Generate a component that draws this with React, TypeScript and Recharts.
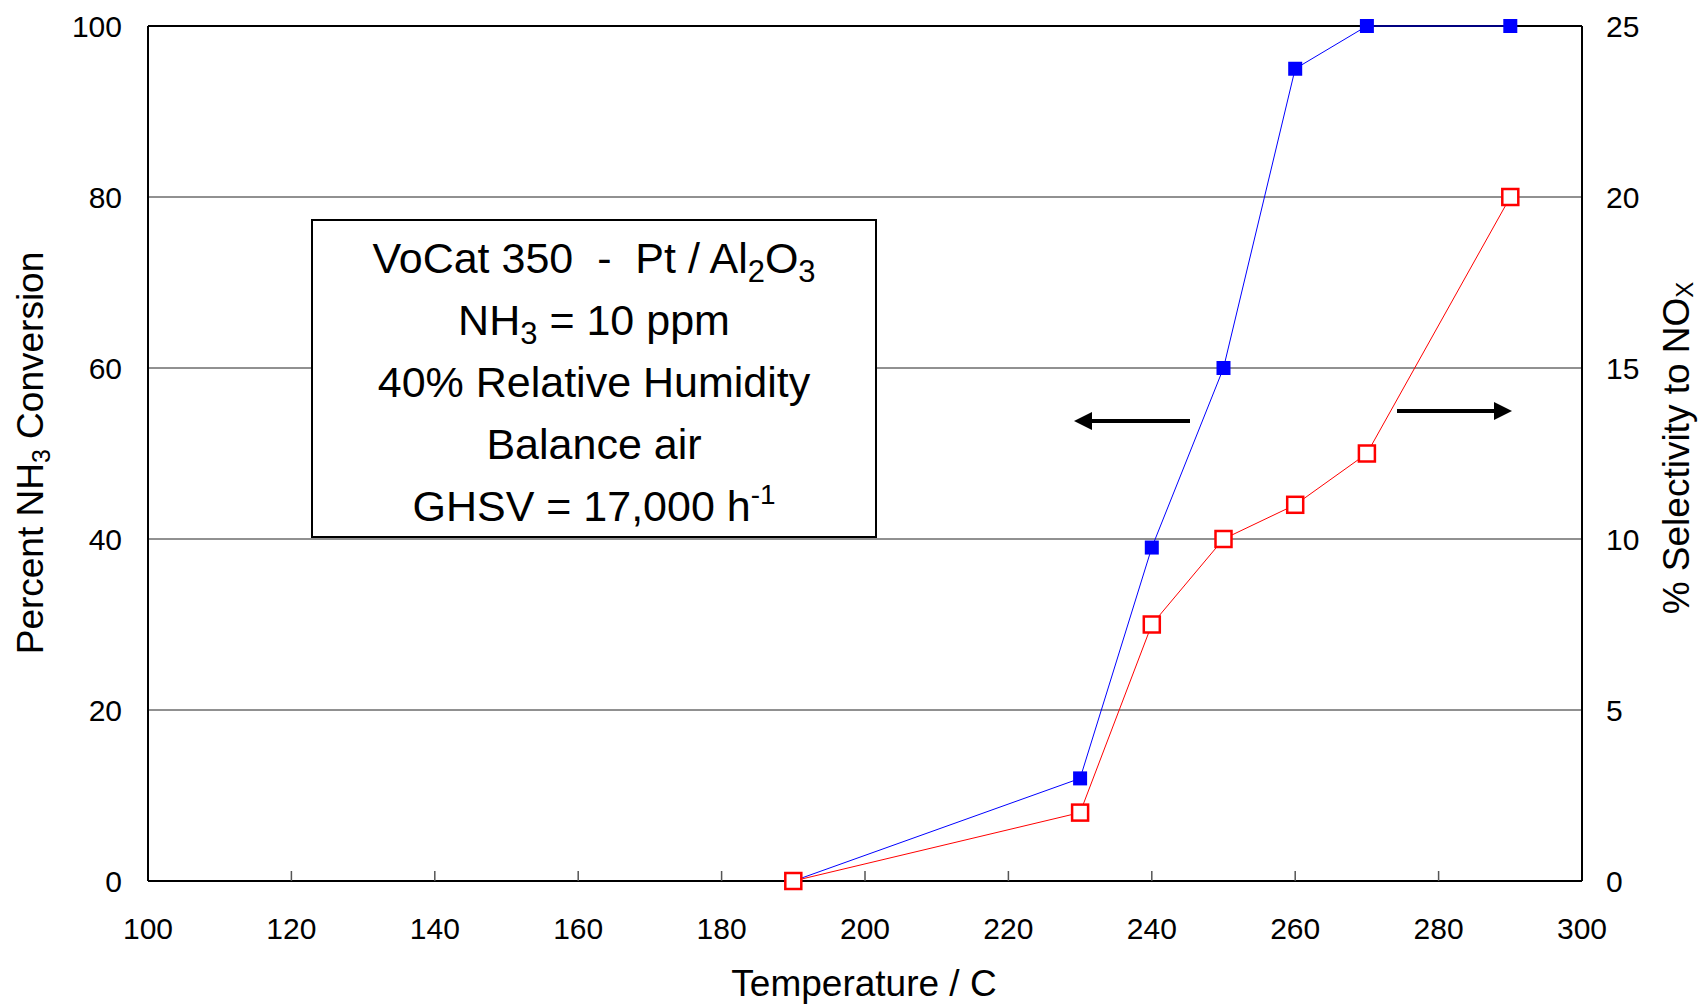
import React from 'react'
import { LineChart, Line, XAxis, YAxis, CartesianGrid, ReferenceLine } from 'recharts'

// Temperature (C) at each measurement
const temperatures = [190, 230, 240, 250, 260, 270, 290]
// Percent NH3 conversion (left axis)
const nh3Conversion = [0, 12, 39, 60, 95, 100, 100]
// % selectivity to NOx (right axis)
const noxSelectivity = [0, 2, 7.5, 10, 11, 12.5, 20]

const xTicks = [100, 120, 140, 160, 180, 200, 220, 240, 260, 280, 300]
const leftTicks = [0, 20, 40, 60, 80, 100]
const rightTicks = [0, 5, 10, 15, 20, 25]

const FONT = '"Liberation Sans", Arial, sans-serif'
const X_TICK_MARGIN = 37

const chartData = temperatures.map((t, i) => ({
  temp: t,
  conversion: nh3Conversion[i],
  selectivity: noxSelectivity[i],
}))

const XTick = (props: any) => {
  const { x, y, payload } = props
  const axisY = y - X_TICK_MARGIN
  const inner = payload.value > 100 && payload.value < 300
  return (
    <g>
      {inner && <line x1={x} x2={x} y1={axisY} y2={axisY - 10} stroke="#555" strokeWidth={1.5} />}
      <text x={x} y={y} dy="0.71em" textAnchor="middle" fontSize={30} fontFamily={FONT} fill="#000">
        {payload.value}
      </text>
    </g>
  )
}

const BlueSquare = (props: any) => {
  const { cx, cy } = props
  if (cx == null || cy == null) return null
  return <rect x={cx - 7} y={cy - 7} width={14} height={14} fill="#0000ff" />
}

const RedSquare = (props: any) => {
  const { cx, cy } = props
  if (cx == null || cy == null) return null
  return <rect x={cx - 8} y={cy - 8} width={16} height={16} fill="#fff" stroke="#ff0000" strokeWidth={2.5} />
}

const subStyle: React.CSSProperties = { fontSize: '0.72em', verticalAlign: '-0.3em', lineHeight: 0 }
const supStyle: React.CSSProperties = { fontSize: '0.65em', verticalAlign: '0.6em', lineHeight: 0 }

const App = () => {
  return (
    <div style={{ position: 'absolute', left: 0, top: 0, width: 1701, height: 1004, background: '#fff' }}>
      <LineChart
        width={1701}
        height={1004}
        data={chartData}
        margin={{ top: 26, right: 0, bottom: 0, left: 0 }}
      >
        <CartesianGrid yAxisId="left" horizontal vertical={false} stroke="#222" strokeWidth={1} />
        <XAxis
          dataKey="temp"
          type="number"
          domain={[100, 300]}
          ticks={xTicks}
          height={123}
          tickSize={0}
          tickMargin={X_TICK_MARGIN}
          tickLine={false}
          axisLine={{ stroke: '#000', strokeWidth: 2 }}
          tick={<XTick />}
          interval={0}
        />
        <YAxis
          yAxisId="left"
          domain={[0, 100]}
          ticks={leftTicks}
          width={148}
          tickSize={0}
          tickMargin={26}
          tickLine={false}
          axisLine={{ stroke: '#000', strokeWidth: 2 }}
          tick={{ fontSize: 30, fontFamily: FONT, fill: '#000' }}
          interval={0}
        />
        <YAxis
          yAxisId="right"
          orientation="right"
          domain={[0, 25]}
          ticks={rightTicks}
          width={119}
          tickSize={0}
          tickMargin={24}
          tickLine={false}
          axisLine={{ stroke: '#000', strokeWidth: 2 }}
          tick={{ fontSize: 30, fontFamily: FONT, fill: '#000' }}
          interval={0}
        />
        <ReferenceLine yAxisId="left" y={100} stroke="#000" strokeWidth={2} />
        <Line
          yAxisId="left"
          type="linear"
          dataKey="conversion"
          stroke="#0000ff"
          strokeWidth={1}
          dot={<BlueSquare />}
          activeDot={false}
          isAnimationActive={false}
        />
        <Line
          yAxisId="right"
          type="linear"
          dataKey="selectivity"
          stroke="#ff0000"
          strokeWidth={1}
          dot={<RedSquare />}
          activeDot={false}
          isAnimationActive={false}
        />
      </LineChart>

      {/* axis titles and arrows */}
      <svg
        width={1701}
        height={1004}
        style={{ position: 'absolute', left: 0, top: 0, pointerEvents: 'none' }}
        fontFamily={FONT}
      >
        <text x={864} y={983} dy="0.36em" textAnchor="middle" fontSize={37} fill="#000">
          Temperature / C
        </text>
        <text
          transform="translate(30, 453) rotate(-90)"
          textAnchor="middle"
          dy="0.36em"
          fontSize={37}
          fill="#000"
        >
          Percent NH<tspan fontSize={25} dy={7}>3</tspan>
          <tspan dy={-7}> Conversion</tspan>
        </text>
        <text
          transform="translate(1676, 448) rotate(-90)"
          textAnchor="middle"
          dy="0.36em"
          fontSize={37}
          fill="#000"
        >
          % Selectivity to NO<tspan fontSize={24} dy={4}>X</tspan>
        </text>
        {/* left-pointing arrow: conversion axis */}
        <line x1={1190} y1={421} x2={1088} y2={421} stroke="#000" strokeWidth={4} />
        <polygon points="1074,421 1092,412 1092,430" fill="#000" />
        {/* right-pointing arrow: selectivity axis */}
        <line x1={1397} y1={411} x2={1498} y2={411} stroke="#000" strokeWidth={4} />
        <polygon points="1512,411 1494,402 1494,420" fill="#000" />
      </svg>

      {/* conditions box */}
      <div
        style={{
          position: 'absolute',
          left: 311,
          top: 219,
          width: 566,
          height: 319,
          boxSizing: 'border-box',
          border: '2px solid #000',
          background: '#fff',
          fontFamily: FONT,
          fontSize: 43,
          lineHeight: '62px',
          textAlign: 'center',
          paddingTop: 6,
          color: '#000',
        }}
      >
        <div>
          VoCat 350&nbsp; -&nbsp; Pt / Al<span style={subStyle}>2</span>O<span style={subStyle}>3</span>
        </div>
        <div>
          NH<span style={subStyle}>3</span> = 10 ppm
        </div>
        <div>40% Relative Humidity</div>
        <div>Balance air</div>
        <div>
          GHSV = 17,000 h<span style={supStyle}>-1</span>
        </div>
      </div>
    </div>
  )
}

export default App
